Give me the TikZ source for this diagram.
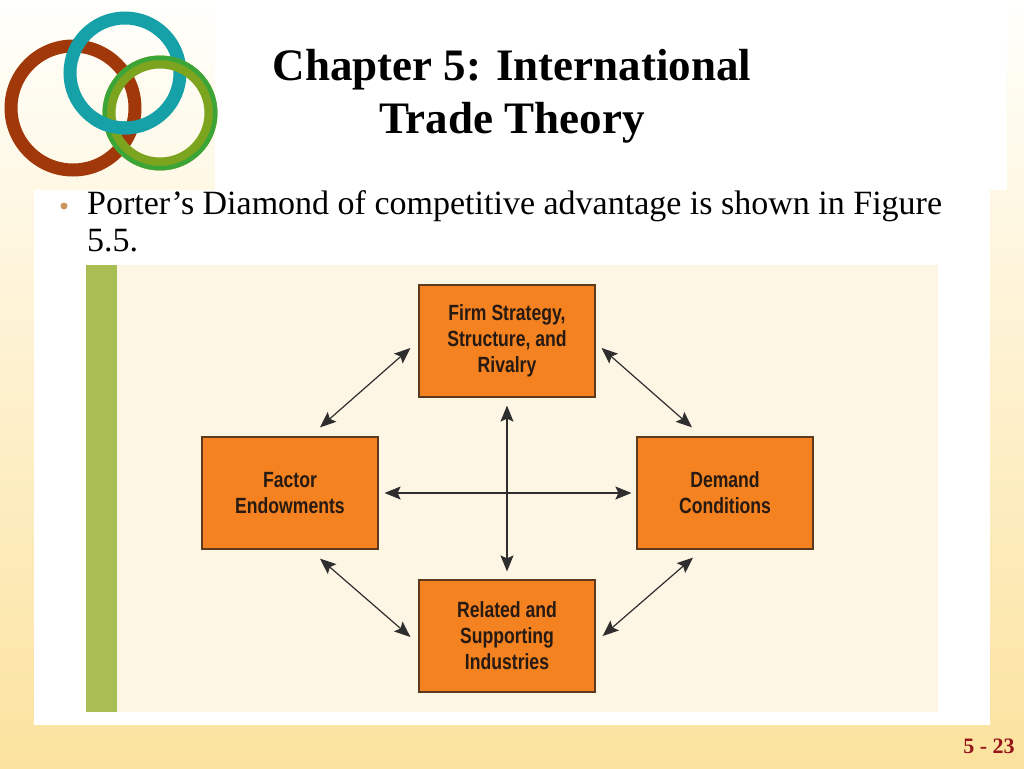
\documentclass[tikz,border=0pt]{standalone}
\usepackage{fontspec}
\setmainfont{Liberation Serif}
\newfontfamily\boxfont[FakeStretch=0.8]{Liberation Sans}
\usetikzlibrary{calc,arrows.meta}
\definecolor{slidetop}{RGB}{255,255,252}
\definecolor{slidebottom}{RGB}{251,226,158}
\definecolor{panelcream}{RGB}{253,246,228}
\definecolor{barolive}{RGB}{168,189,82}
\definecolor{boxorange}{RGB}{244,130,32}
\definecolor{boxedge}{RGB}{92,58,30}
\definecolor{boxtext}{RGB}{38,26,18}
\definecolor{ringbrown}{RGB}{160,56,10}
\definecolor{ringteal}{RGB}{22,160,168}
\definecolor{ringgreen}{RGB}{60,165,55}
\definecolor{ringolive}{RGB}{125,164,30}
\definecolor{bullettan}{RGB}{205,150,95}
\definecolor{pagered}{RGB}{150,20,25}
\tikzset{
	force/.style={draw=boxedge, line width=1.2pt, fill=boxorange, text=boxtext, minimum width=176pt, minimum height=112pt, align=center, font=\boxfont\bfseries\fontsize{22}{26}\selectfont},
	tip/.tip={Stealth[length=16pt,width=13pt,inset=3pt]},
	link/.style={draw=black!82, line width=1.2pt, tip-tip}
}

\begin{document}
\begin{tikzpicture}[x=1pt,y=-1pt]
		%%%%% START %%%%%
		
		\useasboundingbox (0,0) rectangle (1024,768);
		\shade[top color=slidetop, bottom color=slidebottom] (0,0) rectangle (1024,768);
		\fill[white] (215,0) rectangle (1007,190);
		\fill[white] (34,190) rectangle (990,725);
		
		\draw[ringbrown, line width=13pt] (73,108) circle (62pt);
		\draw[ringteal, line width=13pt] (125,73) circle (55pt);
		\draw[ringolive, line width=13pt] (160,113) circle (51pt);
		\draw[ringgreen, line width=4.5pt] (160,113) circle (55.2pt);
		\draw[ringteal, line width=13pt] (125,73) ++(235:55pt) arc[start angle=235, end angle=275, radius=55pt];
		
		\node[font=\bfseries\fontsize{45}{53}\selectfont, align=center] (title) at (512,96) {Chapter 5: International\\Trade Theory};
		
		\fill[bullettan] (64,206) circle (3.5pt);
		\node[anchor=north west, inner sep=0pt, align=left, font=\fontsize{34}{37}\selectfont] (intro) at (87,190) {Porter’s Diamond of competitive advantage is shown in Figure\\5.5.};
		
		\fill[panelcream] (117,265) rectangle (938,712);
		\fill[barolive] (86,265) rectangle (117,712);
		
		\node[force] (firm) at (507,341) {Firm Strategy,\\Structure, and\\Rivalry};
		\node[force] (factor) at (290,493) {Factor\\Endowments};
		\node[force] (demand) at (725,493) {Demand\\Conditions};
		\node[force] (related) at (507,636) {Related and\\Supporting\\Industries};
		
		\draw[link] ([yshift=-8pt]firm.south) -- ([yshift=8pt]related.north);
		\draw[link] ([xshift=6pt]factor.east) -- ([xshift=-5pt]demand.west);
		\draw[link] ($(firm.west)+(-8,7)$) -- ($(factor.north)+(30,-9)$);
		\draw[link] ($(firm.east)+(6,7)$) -- ($(demand.north)+(-33,-9)$);
		\draw[link] ($(factor.south)+(30,9)$) -- ($(related.west)+(-8,1)$);
		\draw[link] ($(demand.south)+(-32,8)$) -- ($(related.east)+(7,0)$);
		
		\node[font=\bfseries\fontsize{22}{26}\selectfont, text=pagered] (pagenum) at (989,746) {5 - 23};
		
		%%%%% END %%%%%
\end{tikzpicture}
\end{document}
